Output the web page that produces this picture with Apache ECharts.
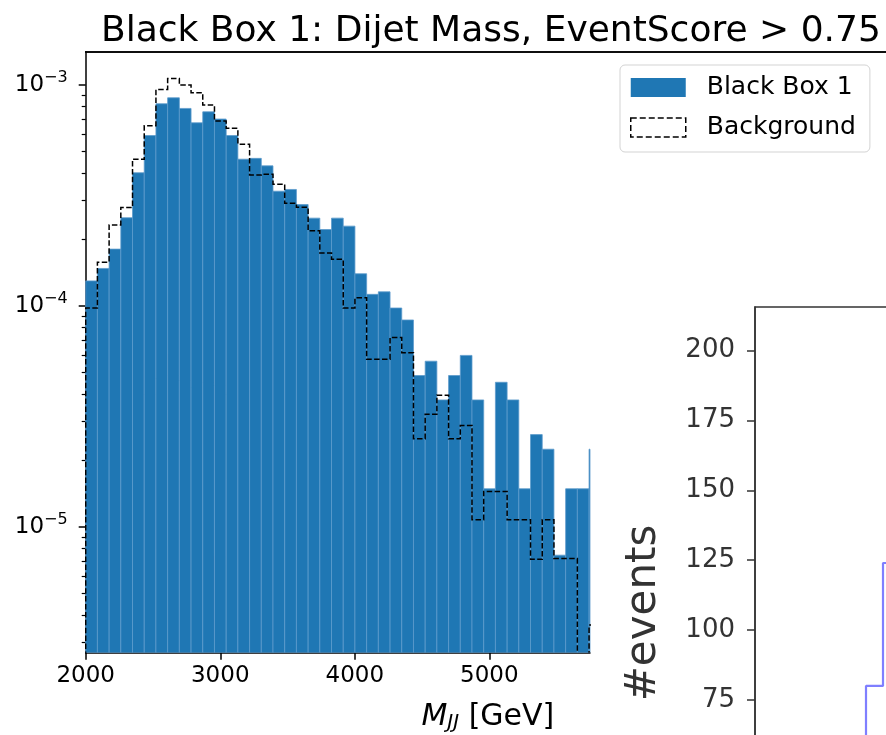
<!DOCTYPE html>
<html><head><meta charset="utf-8">
<script src="https://cdn.jsdelivr.net/npm/echarts@6/dist/echarts.min.js"></script>
<style>html,body{margin:0;padding:0;background:#fff}#c{width:886px;height:735px}</style>
</head><body><div id="c"></div>
<script>
// ---- data ----
const binEdges = [2000,2087,2174,2261,2348,2435,2522,2609,2696,2783,2870,2957,3044,3131,3218,3305,3392,3479,3566,3653,3740,3827,3914,4001,4088,4175,4262,4349,4436,4523,4610,4697,4784,4871,4958,5045,5132,5219,5306,5393,5480,5567,5654,5741,5828];
const blackBox1 = [1.30e-4,1.48e-4,1.81e-4,2.51e-4,4.01e-4,5.91e-4,8.23e-4,8.76e-4,7.84e-4,6.75e-4,7.57e-4,7.02e-4,5.91e-4,4.62e-4,4.66e-4,4.31e-4,3.31e-4,3.37e-4,2.88e-4,2.50e-4,2.22e-4,2.50e-4,2.30e-4,1.40e-4,1.13e-4,1.16e-4,9.8e-5,8.65e-5,4.85e-5,5.63e-5,3.76e-5,4.85e-5,5.98e-5,3.76e-5,1.49e-5,4.52e-5,3.76e-5,1.49e-5,2.62e-5,2.25e-5,7.46e-6,1.49e-5,1.49e-5,2.25e-5];
const background = [9.8e-5,1.58e-4,2.33e-4,2.79e-4,4.62e-4,6.54e-4,9.55e-4,1.07e-3,1.0e-3,9.23e-4,8.12e-4,6.87e-4,6.37e-4,5.40e-4,3.92e-4,3.95e-4,3.56e-4,2.92e-4,2.80e-4,2.19e-4,1.74e-4,1.63e-4,9.8e-5,1.09e-4,5.75e-5,5.75e-5,7.21e-5,6.15e-5,2.51e-5,3.24e-5,3.95e-5,2.51e-5,2.88e-5,1.08e-5,1.45e-5,1.45e-5,1.08e-5,1.08e-5,7.14e-6,1.08e-5,7.2e-6,7.2e-6,0,3.6e-6];
const xTicks = [2000,3000,4000,5000];
const yMajorTicks = [1e-5,1e-4,1e-3];
const yMinorTicks = [3e-6,4e-6,5e-6,6e-6,7e-6,8e-6,9e-6,2e-5,3e-5,4e-5,5e-5,6e-5,7e-5,8e-5,9e-5,2e-4,3e-4,4e-4,5e-4,6e-4,7e-4,8e-4,9e-4];
const insetEdges = [20,27.75,32,36.25];
const insetEvents = [50,80,124];
const insetTicks = [75,100,125,150,175,200];

const X_MIN = 2000, X_MAX = 5748, Y_MIN = 2.70e-6, Y_MAX = 1.416e-3;
const FONT = 'DejaVu Sans';

const barData = blackBox1.map((v,i)=>[binEdges[i], binEdges[i+1], v]);
const insetData = insetEdges.map((e,i)=>[e, insetEvents[Math.min(i, insetEvents.length-1)]]);

function supLabel(v){
  const e = Math.round(Math.log10(v));
  return '{b|10}{s|' + (e<0?'\u2212':'') + Math.abs(e) + '}';
}

const chart = echarts.init(document.getElementById('c'));
chart.setOption({
  animation:false,
  backgroundColor:'#fff',
  textStyle:{fontFamily:FONT},
  title:{text:'Black Box 1: Dijet Mass, EventScore > 0.75', left:96, top:9,
    textStyle:{fontFamily:FONT, fontSize:36, fontWeight:'normal', color:'#000'}},
  graphic:{elements:[
    {type:'line', z:100, shape:{x1:85, y1:52, x2:886, y2:52}, style:{stroke:'#000', lineWidth:1.5}}
  ]},
  legend:{
    orient:'vertical', left:620, top:65,
    padding:[10,14,12,10], itemGap:15, itemWidth:55, itemHeight:19,
    borderColor:'#d3d3d3', borderWidth:1, borderRadius:5, backgroundColor:'#fff',
    textStyle:{fontFamily:FONT, fontSize:25, color:'#000', padding:[0,0,0,16]},
    data:[
      {name:'Black Box 1', icon:'rect', itemStyle:{color:'#1f77b4'}},
      {name:'Background', icon:'rect', itemStyle:{color:'#fff', borderColor:'#000', borderWidth:1.5, borderType:'dashed'}}
    ]
  },
  grid:[
    {left:85.7, top:51.7, width:504.3, height:601, outerBoundsMode:'none'},
    {left:755, top:307, width:400, height:612, show:true, borderColor:'#333', borderWidth:1.5, outerBoundsMode:'none'},
    {left:85.7, top:1.7, width:800.3, height:50}
  ],
  xAxis:[
    {gridIndex:0, type:'value', min:X_MIN, max:X_MAX,
     axisLine:{onZero:false, lineStyle:{color:'#000', width:1.5}},
     axisTick:{customValues:xTicks, length:7, lineStyle:{color:'#000', width:1.5}},
     axisLabel:{customValues:xTicks, fontSize:23, color:'#000', margin:12, fontFamily:FONT,
       formatter:function(v){return String(v);}},
     splitLine:{show:false},
     name:'{i|M}{sub|JJ}{t| [GeV]}', nameLocation:'middle', nameGap:50,
     nameTextStyle:{padding:[0,0,0,300], rich:{
       i:{fontFamily:FONT, fontStyle:'italic', fontSize:30, color:'#000'},
       sub:{fontFamily:FONT, fontStyle:'italic', fontSize:20, color:'#000', padding:[10,0,0,0]},
       t:{fontFamily:FONT, fontSize:30, color:'#000'}}}},
    {gridIndex:1, type:'value', min:0, max:100, show:false},
    {gridIndex:2, type:'value', min:0, max:1,
     axisLine:{show:true, lineStyle:{color:'#000', width:1.5}},
     axisTick:{show:false}, axisLabel:{show:false}, splitLine:{show:false}}
  ],
  yAxis:[
    {gridIndex:0, type:'log', min:Y_MIN, max:Y_MAX,
     axisLine:{show:true, lineStyle:{color:'#000', width:1.5}},
     axisTick:{show:true, customValues:yMajorTicks, length:7, lineStyle:{color:'#000', width:1.5}},
     axisLabel:{customValues:yMajorTicks, margin:18, formatter:supLabel,
       rich:{b:{fontFamily:FONT, fontSize:23, color:'#000'},
             s:{fontFamily:FONT, fontSize:16, color:'#000', padding:[0,0,14,0]}}},
     splitLine:{show:false}},
    {gridIndex:0, type:'log', min:Y_MIN, max:Y_MAX, position:'left',
     axisLine:{show:false}, axisLabel:{show:false}, splitLine:{show:false},
     axisTick:{show:true, customValues:yMinorTicks, length:4, lineStyle:{color:'#000', width:1.2}}},
    {gridIndex:1, type:'value', min:-3.4, max:215.6,
     axisLine:{show:true, lineStyle:{color:'#333', width:1.5}},
     axisTick:{customValues:insetTicks, length:8, lineStyle:{color:'#333', width:1.5}},
     axisLabel:{customValues:insetTicks, fontSize:26, color:'#333', margin:20, fontFamily:FONT},
     splitLine:{show:false},
     name:'#events', nameLocation:'middle', nameGap:90,
     nameTextStyle:{fontFamily:FONT, fontSize:42, color:'#333'}},
    {gridIndex:2, type:'value', min:0, max:1, show:false}
  ],
  series:[
    {name:'Black Box 1', type:'custom', xAxisIndex:0, yAxisIndex:0, clip:true,
     itemStyle:{color:'#1f77b4'},
     encode:{x:[0,1], y:2},
     data:barData,
     renderItem:function(params, api){
       const cs = params.coordSys;
       const p0 = api.coord([api.value(0), api.value(2)]);
       const p1 = api.coord([api.value(1), api.value(2)]);
       const bottom = cs.y + cs.height;
       const shape = echarts.graphic.clipRectByRect(
         {x:p0[0], y:p0[1], width:p1[0]-p0[0], height:bottom-p0[1]},
         {x:cs.x, y:cs.y, width:cs.width, height:cs.height});
       if(!shape) return;
       return {type:'rect', shape:shape, style:{fill:'#1f77b4', stroke:'#5d9bcc', lineWidth:0.8}};
     }},
    {name:'Background', type:'custom', xAxisIndex:0, yAxisIndex:0, clip:true,
     itemStyle:{color:'#000'},
     data:[[X_MIN, Y_MIN]],
     renderItem:function(params, api){
       const cs = params.coordSys;
       const below = cs.y + cs.height + 20;
       const pts = [];
       pts.push([api.coord([binEdges[0], Y_MIN])[0], below]);
       for(let i=0;i<background.length;i++){
         const v = background[i];
         const xl = api.coord([binEdges[i], Y_MIN])[0];
         const xr = api.coord([binEdges[i+1], Y_MIN])[0];
         const y = v>0 ? api.coord([binEdges[i], v])[1] : below;
         pts.push([xl, y]); pts.push([xr, y]);
       }
       pts.push([api.coord([binEdges[background.length], Y_MIN])[0], below]);
       return {type:'polyline', shape:{points:pts},
         style:{stroke:'#000', lineWidth:1.5, lineDash:[5.5,2.4], fill:null}};
     }},
    {name:'inset', type:'line', xAxisIndex:1, yAxisIndex:2, step:'end', symbol:'none',
     lineStyle:{color:'rgba(0,0,255,0.5)', width:2.2}, data:insetData}
  ]
});
</script></body></html>
